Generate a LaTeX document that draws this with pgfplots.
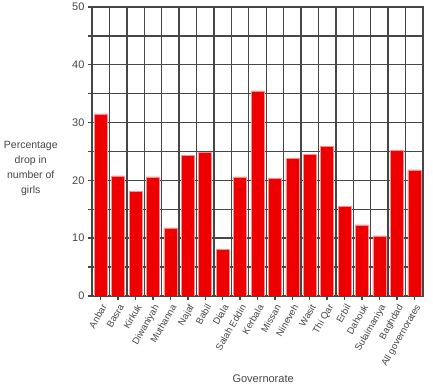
\documentclass[border=0pt]{standalone}
\usepackage{fontspec}
\setmainfont{Liberation Sans}
\usepackage{pgfplots}
\pgfplotsset{compat=1.18}
\definecolor{barred}{RGB}{238,0,0}
\definecolor{baredge}{RGB}{255,140,140}
\definecolor{gridc}{RGB}{70,70,70}
\definecolor{txt}{RGB}{70,70,70}
\begin{document}
\begin{tikzpicture}
\useasboundingbox (0,0) rectangle (433pt,390pt);
\begin{axis}[
  at={(92pt,94pt)}, anchor=south west,
  width=331pt, height=289pt, scale only axis,
  xmin=-0.5, xmax=18.5, ymin=0, ymax=50,
  ytick={0,10,...,50}, minor ytick={5,15,...,45},
  xtick={0,...,18},
  extra x ticks={0.5,1.5,...,17.5},
  extra x tick labels={},
  extra x tick style={grid=major, major tick length=0pt},
  xticklabels={Anbar,Basra,Kirkuk,Diwaniyah,Muthanna,Najaf,Babil,Diala,Salah Eddin,Kerbala,Missan,Nineveh,Wasit,Thi Qar,Erbil,Dahouk,Sulaimaniya,Baghdad,All governorates},
  xticklabel style={rotate=60, anchor=north east, font=\fontsize{9.5}{10}\selectfont, text=txt, inner sep=1pt},
  xticklabel shift=2pt,
  yticklabel style={font=\fontsize{11}{12}\selectfont, text=txt},
  /pgf/number format/assume math mode=true,
  ymajorgrids, yminorgrids,
  grid style={gridc, line width=1.4pt},
  minor grid style={gridc, line width=1.4pt},
  axis line style={gridc, line width=1.4pt},
  tick style={gridc, line width=1.4pt},
  tick align=outside,
  major tick length=4pt, minor tick length=4pt,
  xtick pos=bottom, ytick pos=left,
  ylabel={Percentage\\drop in\\number of\\girls},
  ylabel style={rotate=-90, align=center, at={(axis description cs:-0.185,0.44)}, anchor=center, font=\fontsize{10.5}{15}\selectfont, text=txt},
  xlabel={Governorate},
  xlabel style={at={(axis description cs:0.517,-0.287)}, anchor=center, font=\fontsize{11}{12}\selectfont, text=txt},
]
\addplot[ybar, bar width=13pt, fill=barred, draw=baredge, line width=0.5pt] coordinates {
(0,31.5) (1,20.8) (2,18.1) (3,20.6) (4,11.8) (5,24.3) (6,24.8) (7,8.1) (8,20.6) (9,35.5)
(10,20.3) (11,23.8) (12,24.5) (13,25.9) (14,15.5) (15,12.3) (16,10.4) (17,25.2) (18,21.8)
};
\end{axis}
\end{tikzpicture}
\end{document}
